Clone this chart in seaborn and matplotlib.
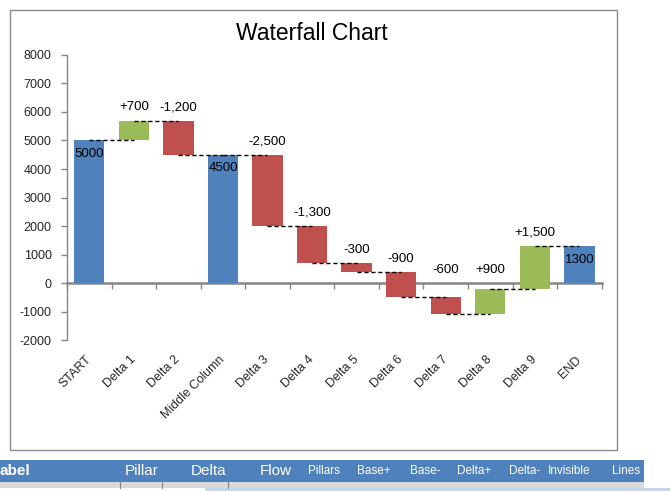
import numpy as np
import pandas as pd
import matplotlib
matplotlib.use('Agg')
import matplotlib.pyplot as plt
import matplotlib.transforms as mtransforms
import seaborn as sns

# chart data
categories = ['START', 'Delta 1', 'Delta 2', 'Middle Column', 'Delta 3', 'Delta 4',
              'Delta 5', 'Delta 6', 'Delta 7', 'Delta 8', 'Delta 9', 'END']
kinds = ['pillar', 'delta', 'delta', 'pillar', 'delta', 'delta',
         'delta', 'delta', 'delta', 'delta', 'delta', 'pillar']
values = [5000, 700, -1200, 4500, -2500, -1300, -300, -900, -600, 900, 1500, 1300]
y_ticks = [-2000, -1000, 0, 1000, 2000, 3000, 4000, 5000, 6000, 7000, 8000]

# sheet header below the chart
sheet_headers = ['abel', 'Pillar', 'Delta', 'Flow', 'Pillars', 'Base+', 'Base-',
                 'Delta+', 'Delta-', 'Invisible', 'Lines']

BLUE, RED, GREEN = '#4F81BD', '#C0504D', '#9BBB59'
GRAY = '#868686'

# running totals -> bar bottoms / tops
bottoms, tops, levels = [], [], []
level = 0
for v, k in zip(values, kinds):
    if k == 'pillar':
        bottoms.append(0)
        tops.append(v)
        level = v
    else:
        new = level + v
        bottoms.append(min(level, new))
        tops.append(max(level, new))
        level = new
    levels.append(level)

df = pd.DataFrame({'category': categories, 'kind': kinds, 'value': values,
                   'bottom': bottoms, 'top': tops, 'level': levels})
df['height'] = df['top'] - df['bottom']
df['color'] = [BLUE if k == 'pillar' else (GREEN if v > 0 else RED)
               for k, v in zip(kinds, values)]

sns.set_style('white')
plt.rcParams['font.family'] = ['Liberation Sans', 'DejaVu Sans']

fig = plt.figure(figsize=(6.7, 4.91), dpi=100)
ax = fig.add_axes([0.1, 0.3075, 0.798, 0.5805])

sns.barplot(data=df, x='category', y='height', bottom=df['bottom'].values,
            color=BLUE, saturation=1, width=0.68, linewidth=0, ax=ax)
for patch, c in zip(ax.patches, df['color']):
    patch.set_facecolor(c)

# dashed connectors between bar centres
x = np.arange(len(df))
ax.hlines(df['level'].values[:-1], x[:-1], x[1:], colors='black',
          linestyles=(0, (3, 2)), linewidth=1, zorder=5)

# value labels
for i, row in df.iterrows():
    if row['kind'] == 'pillar':
        ax.text(i, row['top'] - 480, f"{row['value']:d}", ha='center', va='center',
                fontsize=9.5, color='black', zorder=6)
    else:
        txt = f"{row['value']:+,d}"
        ax.text(i, max(row['top'], 0) + 460, txt, ha='center', va='center',
                fontsize=9.5, color='black', zorder=6)

ax.set_xlim(-0.5, len(df) - 0.5)
ax.set_ylim(-2000, 8000)
ax.set_yticks(y_ticks)
ax.set_yticklabels([str(t) for t in y_ticks], fontsize=9)
ax.set_xticks(x)
ax.set_xticklabels(categories, rotation=45, ha='right', fontsize=9)
ax.tick_params(axis='x', length=0, pad=10)
ax.tick_params(axis='y', length=4, width=1, color=GRAY, pad=7, left=True)
shift = mtransforms.ScaledTranslation(3 / 72, 0, fig.dpi_scale_trans)
for lbl in ax.get_xticklabels():
    lbl.set_transform(lbl.get_transform() + shift)
ax.set_xlabel('')
ax.set_ylabel('')
for side in ['top', 'right', 'bottom']:
    ax.spines[side].set_visible(False)
ax.spines['left'].set_color(GRAY)
ax.spines['left'].set_linewidth(1)

# zero axis with tick marks at category boundaries
zero_pos = (0 - y_ticks[0]) / (y_ticks[-1] - y_ticks[0])
sec = ax.secondary_xaxis(zero_pos)
sec.set_xticks(np.arange(len(df) + 1) - 0.5)
sec.set_xticklabels([])
sec.tick_params(length=4, width=1, color=GRAY, direction='out')
sec.spines['bottom'].set_color(GRAY)
sec.spines['bottom'].set_linewidth(1.8)

fig.text(312 / 670, 1 - 34 / 491, 'Waterfall Chart', ha='center', va='center',
         fontsize=16.5, color='black')

# chart frame
fig.patches.append(plt.Rectangle((10 / 670, 1 - 450 / 491), 607 / 670, 440 / 491,
                                 transform=fig.transFigure, fill=False,
                                 edgecolor='#8C8C8C', linewidth=1))

# spreadsheet header strip
fig.patches.append(plt.Rectangle((0, 1 - 482 / 491), 644 / 670, 22 / 491,
                                 transform=fig.transFigure, facecolor=BLUE,
                                 edgecolor='none'))
fig.patches.append(plt.Rectangle((0, 3 / 491), 644 / 670, 6 / 491,
                                 transform=fig.transFigure, facecolor='#D9D9D9',
                                 edgecolor='none'))
for cx in [120, 162, 228]:
    fig.lines.append(plt.Line2D([cx / 670, cx / 670], [3 / 491, 9 / 491],
                                transform=fig.transFigure, color='#7F7F7F',
                                linewidth=0.8))
fig.patches.append(plt.Rectangle((205 / 670, 0), 465 / 670, 3 / 491,
                                 transform=fig.transFigure, facecolor='#C5D5EA',
                                 edgecolor='none'))
header_x = [0, 142, 209, 276, 324, 374, 425, 474, 525, 569, 626]
header_size = [11, 11, 11, 11, 8.5, 8.5, 8.5, 8.5, 8.5, 8.5, 8.5]
for j, (h, hx, hs) in enumerate(zip(sheet_headers, header_x, header_size)):
    fig.text(hx / 670, 1 - 471 / 491, h, ha='left' if j == 0 else 'center',
             va='center', fontsize=hs, color='white',
             fontweight='bold' if j == 0 else 'normal')

fig.savefig('out.png', dpi=100)
